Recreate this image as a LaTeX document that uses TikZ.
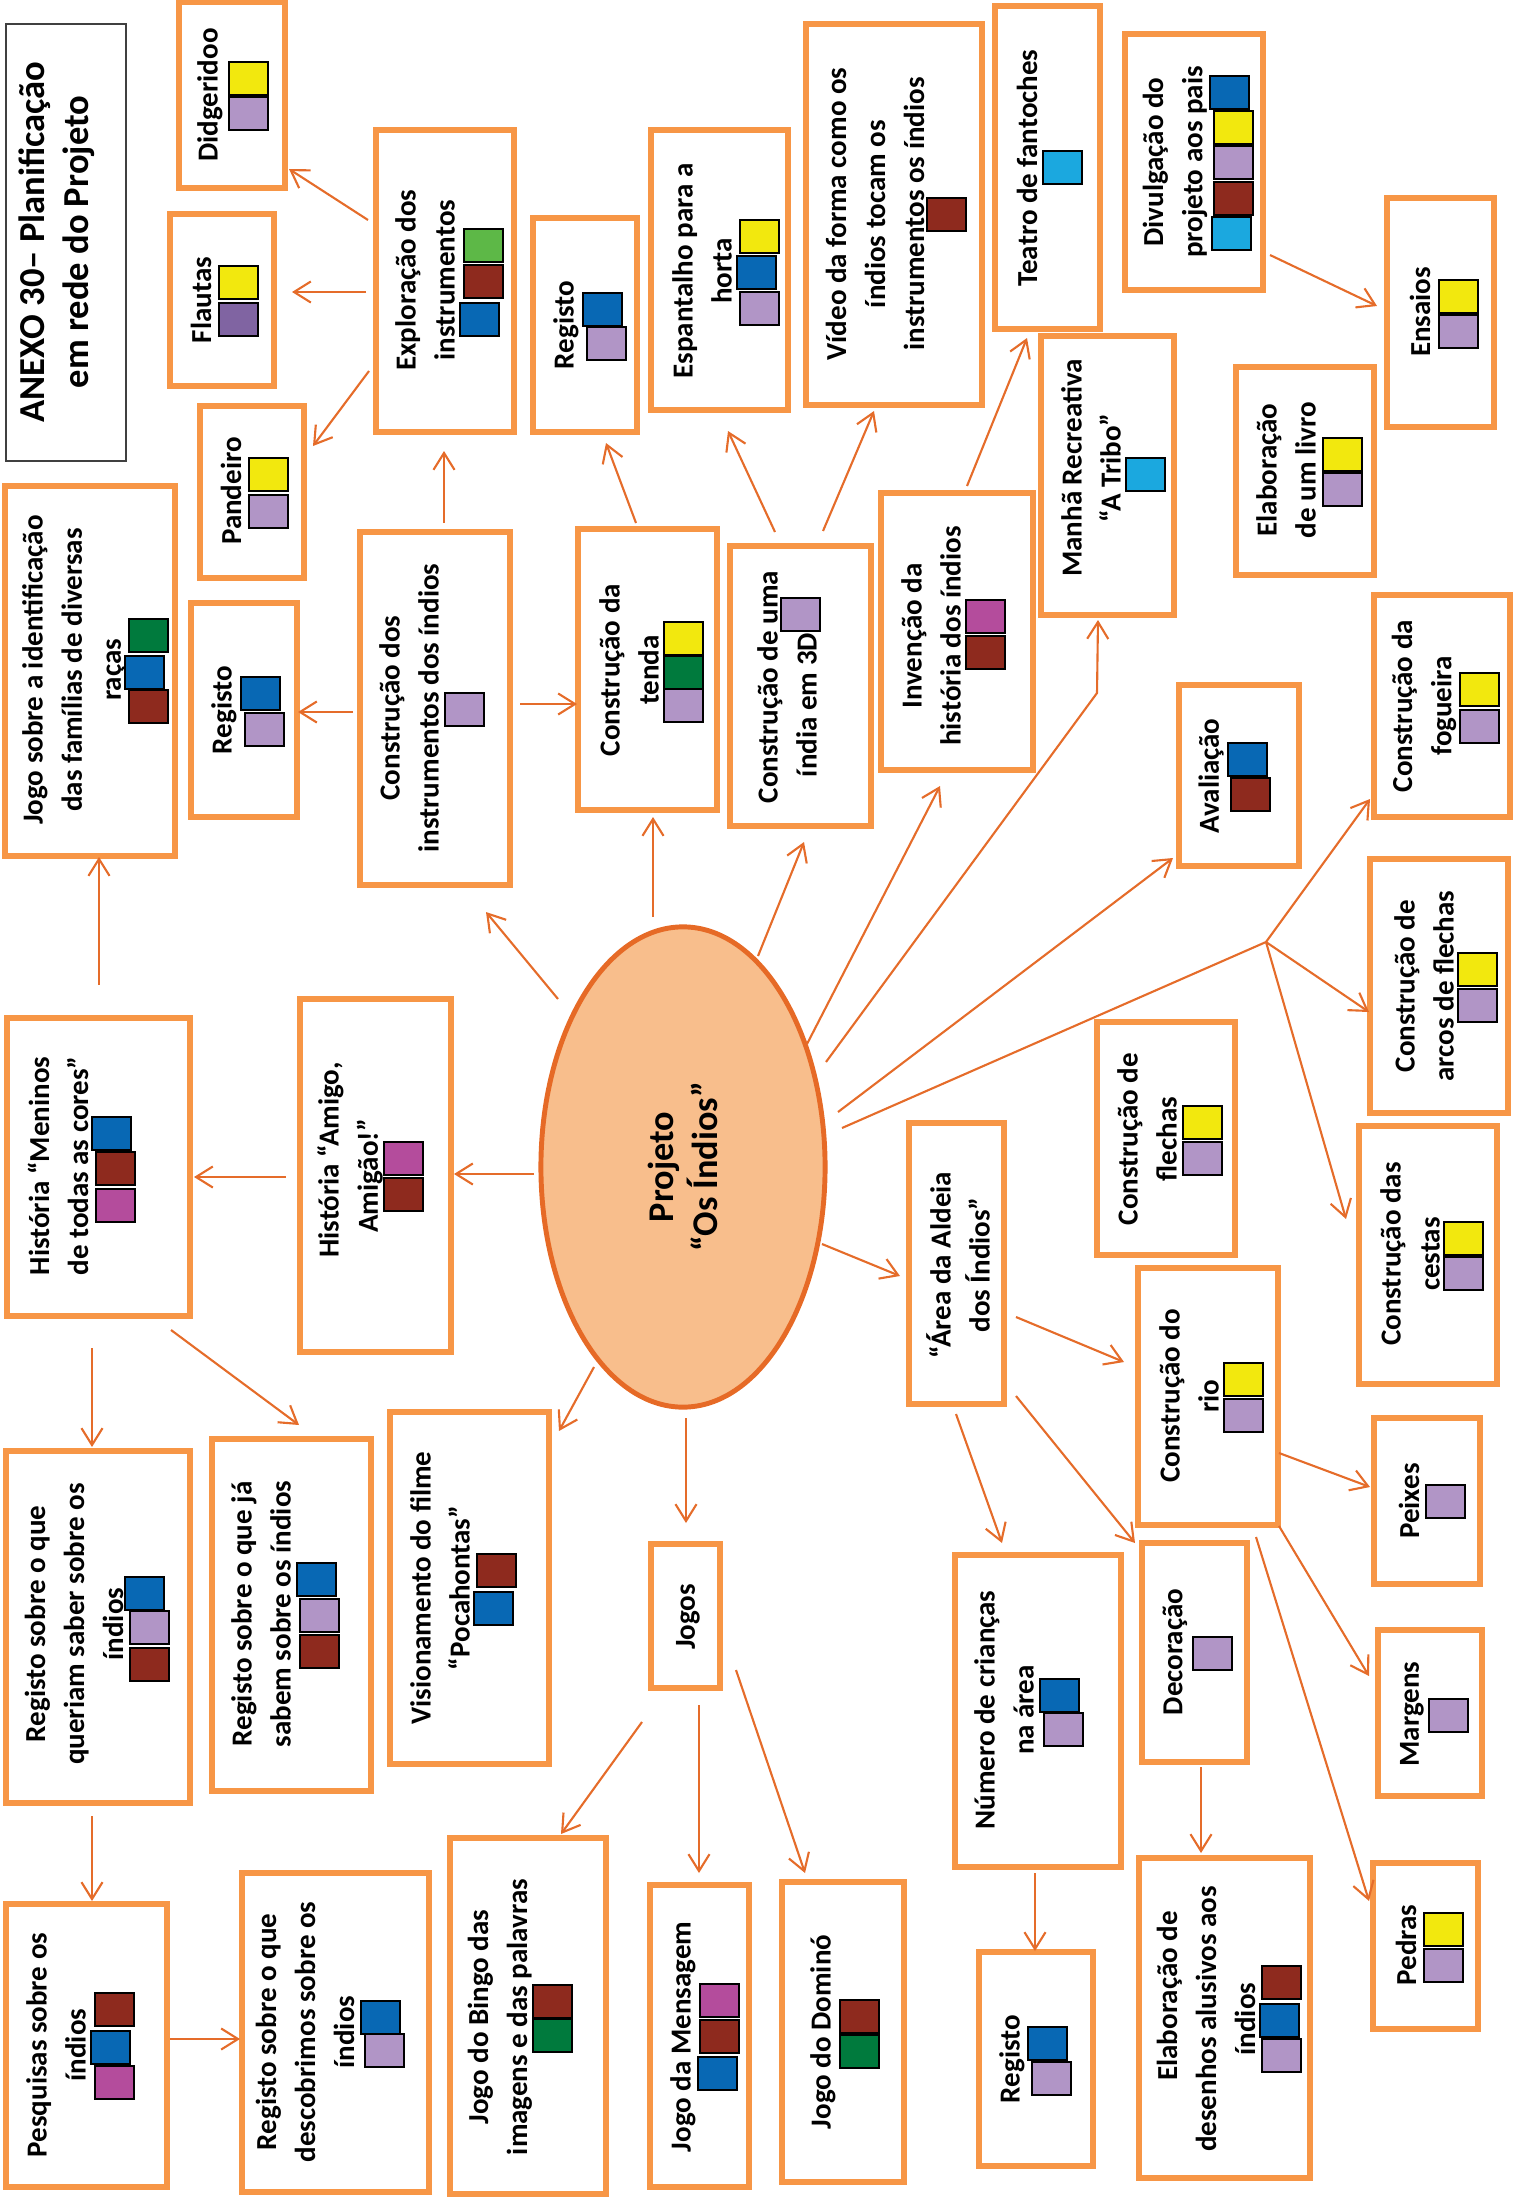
\documentclass[tikz,border=0pt]{standalone}
\usepackage{fontspec}
\setmainfont{Carlito}
\usetikzlibrary{calc,fit,positioning,shapes.geometric,arrows.meta}
\definecolor{cBox}{RGB}{247,150,70}
\definecolor{cArr}{RGB}{229,108,42}
\definecolor{cEll}{RGB}{248,190,140}
\definecolor{cEllB}{RGB}{230,106,38}
\definecolor{cYel}{RGB}{242,232,14}
\definecolor{cLav}{RGB}{177,149,198}
\definecolor{cPur}{RGB}{128,100,162}
\definecolor{cBlu}{RGB}{8,104,180}
\definecolor{cRed}{RGB}{142,42,30}
\definecolor{cLgr}{RGB}{93,184,71}
\definecolor{cGrn}{RGB}{0,122,61}
\definecolor{cCya}{RGB}{27,168,223}
\definecolor{cMag}{RGB}{180,76,156}
\begin{document}
\begin{tikzpicture}[x=0.01cm,y=-0.01cm,
  bx/.style={draw=cBox,line width=1.5pt,inner sep=0pt,outer sep=0pt},
  txt/.style={rotate=90,align=center,inner sep=0pt,font=\bfseries\fontsize{8.25}{11.1}\selectfont},
  arr/.style={draw=cArr,line width=0.6pt,-{Straight Barb[length=4.8pt,width=6pt]}},
  ln/.style={draw=cArr,line width=0.6pt},
  sqr/.style={draw=black,line width=0.7pt}]
  \useasboundingbox (0,0) rectangle (1514,2197);
  \node[draw=black!75,line width=0.6pt,inner sep=0pt,fit={(6,24)(126,461)}] (title) {};
  \node[txt,font=\bfseries\fontsize{10.4}{12.6}\selectfont] (tTitle) at (57,242) {ANEXO 30– Planificação\\em rede do Projeto};
  \foreach \n/\a/\b/\c/\d in {didg/179/2/285/188, flau/170/214/274/386, pand/200/406/304/578,
    expl/376/130/514/432, regA/533/218/637/432, espa/651/130/788/410, video/806/24/982/405,
    teat/995/6/1100/329, divu/1125/34/1263/290, ensa/1387/198/1494/427, manha/1041/336/1174/615,
    livro/1236/367/1374/575, jogoid/5/486/175/856, regB/191/603/297/817, instr/360/532/510/885,
    tenda/578/529/717/810, india/730/546/871/826, inven/881/493/1033/770, aval/1179/685/1299/866,
    fogu/1374/595/1510/817, arcos/1370/859/1508/1113, flech/1097/1022/1235/1255,
    cestas/1359/1126/1497/1384, area/909/1123/1004/1404, rio/1138/1268/1278/1525,
    peix/1374/1418/1480/1584, deco/1142/1543/1247/1762, num/955/1555/1121/1867,
    marg/1378/1630/1482/1796, pedr/1373/1863/1478/2029, desen/1139/1858/1310/2178,
    regC/979/1952/1093/2166, domi/782/1882/904/2182, pesq/6/1904/167/2187,
    desc/242/1873/429/2192, bingo/450/1838/606/2194, mens/650/1885/749/2187,
    jogos/651/1544/720/1688, menin/7/1018/190/1316, amigo/300/999/451/1352,
    quer/6/1451/190/1803, sabem/212/1439/371/1791, poca/390/1412/549/1764}
    \node[bx,fit={(\a,\b)(\c,\d)}] (\n) {};
  \node[ellipse,draw=cEllB,fill=cEll,line width=1.4pt,rotate=90,inner sep=0pt,
    minimum width=4.8cm,minimum height=2.84cm,align=center,
    font=\bfseries\fontsize{10.3}{12.5}\selectfont] (proj) at (683,1167) {Projeto\\“Os Índios”};
  \node[txt] (tDidg) at (210,95) {Didgeridoo};
  \node[txt] (tFlau) at (201,300) {Flautas};
  \node[txt] (tPand) at (231,491) {Pandeiro};
  \node[txt] (tExpl) at (425,280) {Exploração dos\\instrumentos};
  \node[txt] (tRegA) at (566,325) {Registo};
  \node[txt] (tEspa) at (702,271) {Espantalho para a\\horta};
  \node[txt] (tVideo) at (875,214) {Vídeo da forma como os\\índios tocam os\\instrumentos os índios};
  \node[txt] (tTeat) at (1027,168) {Teatro de fantoches};
  \node[txt] (tDivu) at (1175,162) {Divulgação do\\projeto aos pais};
  \node[txt] (tEnsa) at (1420,312) {Ensaios};
  \node[txt] (tManha) at (1091,468) {Manhã Recreativa\\“A Tribo”};
  \node[txt] (tLivro) at (1286,470) {Elaboração\\de um livro};
  \node[txt] (tJogoid) at (74,670) {Jogo sobre a identificação\\das famílias de diversas\\raças};
  \node[txt] (tRegB) at (224,710) {Registo};
  \node[txt] (tInstr) at (409,708) {Construção dos\\instrumentos dos índios};
  \node[txt] (tTenda) at (629,670) {Construção da\\tenda};
  \node[txt] (tIndia) at (787,687) {Construção de uma\\índia em 3D\kern0.36cm};
  \node[txt] (tInven) at (931,636) {Invenção da\\história dos índios};
  \node[txt] (tAval) at (1211,776) {Avaliação};
  \node[txt] (tFogu) at (1424,706) {Construção da\\fogueira};
  \node[txt] (tArcos) at (1424,986) {Construção de\\arcos de flechas};
  \node[txt] (tFlech) at (1147,1139) {Construção de\\flechas};
  \node[txt] (tCestas) at (1410,1254) {Construção das\\cestas};
  \node[txt] (tArea) at (958,1265) {“Área da Aldeia\\dos Índios”};
  \node[txt] (tRio) at (1189,1396) {Construção do\\rio};
  \node[txt] (tPeix) at (1409,1501) {Peixes};
  \node[txt] (tDeco) at (1175,1652) {Decoração};
  \node[txt] (tNum) at (1004,1710) {Número de crianças\\na área};
  \node[txt] (tMarg) at (1412,1714) {Margens};
  \node[txt] (tPedr) at (1406,1945) {Pedras};
  \node[txt] (tDesen) at (1206,2019) {\kern0.46cm Elaboração de\\desenhos alusivos aos\\índios};
  \node[txt] (tRegC) at (1012,2059) {Registo};
  \node[txt] (tDomi) at (823,2032) {Jogo do Dominó};
  \node[txt] (tPesq) at (56,2045) {Pesquisas sobre os\\índios};
  \node[txt] (tDesc) at (305,2032) {Registo sobre o que\\descobrimos sobre os\\índios};
  \node[txt] (tBingo) at (500,2017) {Jogo do Bingo das\\imagens e das palavras};
  \node[txt] (tMens) at (683,2037) {Jogo da Mensagem};
  \node[txt] (tJogos) at (688,1617) {Jogos};
  \node[txt] (tMenin) at (58,1166) {História “Meninos\\de todas as cores”};
  \node[txt] (tAmigo) at (350,1160) {História “Amigo,\\Amigão!”\kern0.32cm};
  \node[txt] (tQuer) at (74,1624) {Registo sobre o que\\queriam saber sobre os\\índios};
  \node[txt] (tSabem) at (261,1614) {Registo sobre o que já\\sabem sobre os índios};
  \node[txt] (tPoca) at (440,1588) {Visionamento do filme\\“Pocahontas”};
  \foreach \x/\y/\c in {229/62/cYel, 229/97/cLav, 219/266/cYel, 219/303/cPur,
    464/229/cLgr, 464/265/cRed, 460/303/cBlu, 583/293/cBlu, 587/327/cLav,
    249/458/cYel, 249/495/cLav, 740/220/cYel, 737/256/cBlu, 740/292/cLav,
    927/198/cRed, 1043/151/cCya, 1210/76/cBlu, 1214/111/cYel, 1214/146/cLav,
    1214/182/cRed, 1212/217/cCya, 1439/280/cYel, 1439/315/cLav, 1126/458/cCya,
    1323/438/cYel, 1323/473/cLav, 129/619/cGrn, 125/656/cBlu, 129/690/cRed,
    241/677/cBlu, 245/713/cLav, 445/693/cLav, 664/622/cYel, 664/656/cGrn,
    664/689/cLav, 781/598/cLav, 966/600/cMag, 966/636/cRed, 1228/743/cBlu,
    1231/778/cRed, 1460/673/cYel, 1460/710/cLav, 1458/953/cYel, 1458/989/cLav,
    92/1117/cBlu, 96/1152/cRed, 96/1189/cMag, 384/1142/cMag, 384/1178/cRed,
    125/1577/cBlu, 130/1611/cLav, 130/1648/cRed, 297/1563/cBlu, 300/1599/cLav,
    300/1635/cRed, 477/1554/cRed, 474/1592/cBlu, 1183/1106/cYel, 1183/1142/cLav,
    1444/1222/cYel, 1444/1257/cLav, 1224/1363/cYel, 1224/1399/cLav, 1426/1485/cLav,
    1193/1637/cLav, 1040/1679/cBlu, 1044/1713/cLav, 1429/1699/cLav, 1424/1913/cYel,
    1424/1949/cLav, 1262/1966/cRed, 1260/2004/cBlu, 1262/2039/cLav, 1028/2027/cBlu,
    1032/2062/cLav, 840/2000/cRed, 840/2035/cGrn, 95/1993/cRed, 91/2031/cBlu,
    95/2066/cMag, 361/2001/cBlu, 365/2034/cLav, 533/1985/cRed, 533/2019/cGrn,
    700/1984/cMag, 700/2020/cRed, 698/2057/cBlu}
    \filldraw[sqr,fill=\c] (\x,\y) rectangle ++(39,33);
  \draw[arr] ($(expl.north west)+(-8,90)$) -- ($(didg.north west)+(110,167)$);
  \draw[arr] ($(expl.north west)+(-10,162)$) -- ($(flau.north west)+(122,78)$);
  \draw[arr] ($(expl.north west)+(-7,241)$) -- ($(pand.north west)+(113,40)$);
  \draw[arr] ($(instr.north west)+(84,-9)$) -- ($(expl.north west)+(68,321)$);
  \draw[arr] ($(tenda.north west)+(58,-6)$) -- ($(regA.north west)+(73,225)$);
  \draw[arr] ($(india.north west)+(45,-14)$) -- ($(espa.north west)+(77,301)$);
  \draw[arr] ($(india.north west)+(93,-15)$) -- ($(video.north west)+(68,387)$);
  \draw[arr] ($(inven.north west)+(86,-7)$) -- ($(teat.north west)+(32,332)$);
  \draw[arr] ($(divu.north west)+(145,221)$) -- ($(ensa.north west)+(-10,108)$);
  \draw[arr] ($(menin.north west)+(92,-33)$) -- ($(jogoid.north west)+(94,371)$);
  \draw[arr] ($(instr.north west)+(-7,180)$) -- ($(regB.north west)+(107,109)$);
  \draw[arr] ($(instr.north west)+(160,172)$) -- ($(tenda.north west)+(-1,175)$);
  \draw[arr] ($(proj)+(-125,-168)$) -- ($(instr.north west)+(126,380)$);
  \draw[arr] ($(proj)+(-30,-250)$) -- ($(tenda.north west)+(75,288)$);
  \draw[arr] ($(proj)+(75,-211)$) -- ($(india.north west)+(74,296)$);
  \draw[arr] ($(proj)+(124,-123)$) -- ($(inven.north west)+(59,293)$);
  \draw[arr] ($(proj)+(143,-105)$) -- ($(manha.north west)+(56,357)$) -- ($(manha.north west)+(57,284)$);
  \draw[arr] ($(proj)+(155,-55)$) -- ($(aval.north west)+(-6,173)$);
  \coordinate (hub) at (1266,942);
  \draw[ln] ($(proj)+(159,-39)$) -- (hub);
  \draw[arr] (hub) -- ($(fogu.north west)+(-4,204)$);
  \draw[arr] (hub) -- ($(arcos.north west)+(-1,153)$);
  \draw[arr] (hub) -- ($(cestas.north west)+(-13,93)$);
  \draw[arr] ($(proj)+(-149,7)$) -- ($(amigo.north west)+(154,175)$);
  \draw[arr] ($(amigo.north west)+(-14,178)$) -- ($(menin.north west)+(187,159)$);
  \draw[arr] ($(menin.north west)+(85,330)$) -- ($(quer.north west)+(86,-4)$);
  \draw[arr] ($(menin.north west)+(164,312)$) -- ($(sabem.north west)+(87,-14)$);
  \draw[arr] ($(proj)+(-89,200)$) -- ($(poca.north west)+(169,19)$);
  \draw[arr] ($(proj)+(3,251)$) -- ($(jogos.north west)+(35,-21)$);
  \draw[arr] ($(proj)+(139,77)$) -- ($(area.north west)+(-9,153)$);
  \draw[arr] ($(area.north west)+(107,194)$) -- ($(rio.north west)+(-14,94)$);
  \draw[arr] ($(area.north west)+(47,291)$) -- ($(num.north west)+(47,-12)$);
  \draw[arr] ($(area.north west)+(107,273)$) -- ($(deco.north west)+(-7,0)$);
  \draw[arr] ($(rio.north west)+(141,185)$) -- ($(peix.north west)+(-4,69)$);
  \draw[arr] ($(rio.north west)+(141,258)$) -- ($(marg.north west)+(-9,46)$);
  \draw[arr] ($(rio.north west)+(118,269)$) -- ($(pedr.north west)+(-4,38)$);
  \draw[arr] ($(quer.north west)+(86,365)$) -- ($(pesq.north west)+(86,-3)$);
  \draw[arr] ($(pesq.north west)+(164,135)$) -- ($(desc.north west)+(-2,166)$);
  \draw[arr] ($(jogos.north west)+(-9,178)$) -- ($(bingo.north west)+(111,-4)$);
  \draw[arr] ($(jogos.north west)+(48,161)$) -- ($(mens.north west)+(49,-12)$);
  \draw[arr] ($(jogos.north west)+(85,126)$) -- ($(domi.north west)+(23,-9)$);
  \draw[arr] ($(num.north west)+(80,318)$) -- ($(regC.north west)+(56,-1)$);
  \draw[arr] ($(deco.north west)+(59,224)$) -- ($(desen.north west)+(62,-5)$);
\end{tikzpicture}
\end{document}
